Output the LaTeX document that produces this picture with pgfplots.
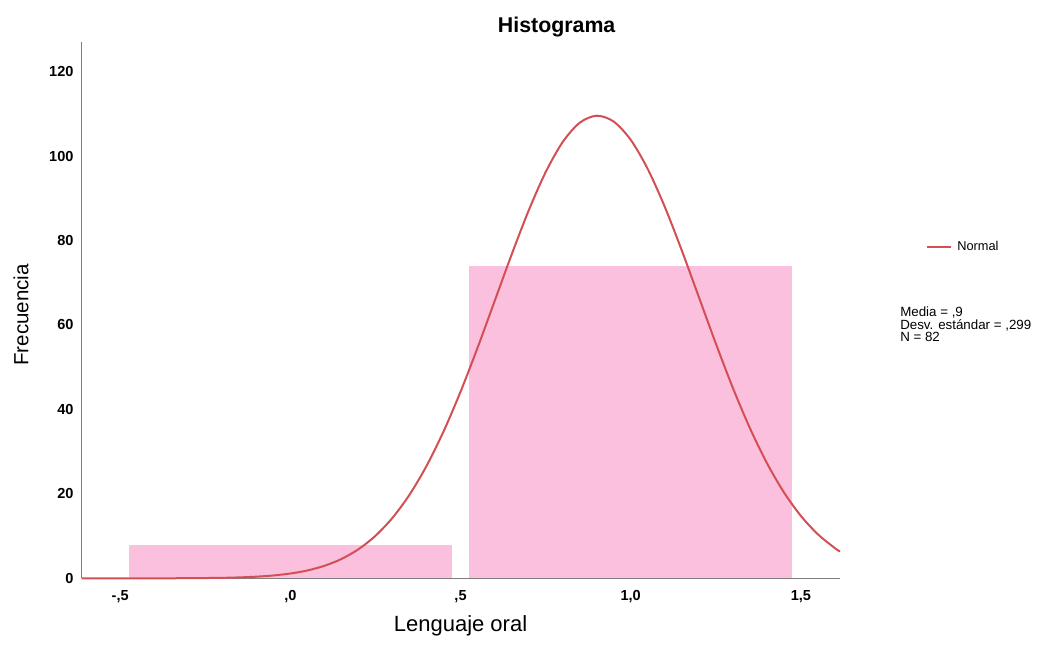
\documentclass[border=0pt]{standalone}
\usepackage{pgfplots}
\pgfplotsset{compat=1.18}
\usepackage{fontspec}
\setmainfont{Liberation Sans}
\definecolor{barpink}{RGB}{250,192,222}
\definecolor{curvered}{RGB}{210,80,84}
\definecolor{axgray}{RGB}{125,125,125}
\begin{document}
\begin{tikzpicture}
\useasboundingbox (0,0) rectangle (785.25bp,483.75bp);
\begin{axis}[
  at={(61.3bp,50bp)}, anchor=south west,
  scale only axis, width=568.7bp, height=402.5bp,
  xmin=-0.613, xmax=1.615, ymin=0, ymax=127.1,
  axis x line=bottom, axis y line=left,
  axis line style={-, draw=axgray, line width=0.9bp},
  xtick={-0.5,0,0.5,1,1.5},
  xticklabels={{-,5},{,0},{,5},{1,0},{1,5}},
  ytick={0,20,...,120},
  major tick length=0pt,
  tick style={draw=none},
  /pgf/number format/assume math mode=true,
  ticklabel style={font=\fontsize{10.9bp}{13bp}\selectfont\bfseries, inner sep=0pt},
  xticklabel style={anchor=north, yshift=-9bp},
  yticklabel style={anchor=east, xshift=-6bp},
  legend style={at={(1.1134,0.6174)}, anchor=west, draw=none, fill=none, inner sep=0pt,
    font=\fontsize{9.6bp}{11bp}\selectfont, nodes={inner sep=0pt},
    /tikz/every odd column/.append style={column sep=3.75bp}},
  legend image code/.code={\draw[#1] (0bp,0bp) -- (18bp,0bp);},
  clip=false,
]
\addplot[fill=barpink, draw=none, forget plot] coordinates {(-0.475,0) (-0.475,8) (0.475,8) (0.475,0)};
\addplot[fill=barpink, draw=none, forget plot] coordinates {(0.525,0) (0.525,74) (1.475,74) (1.475,0)};
\addplot[curvered, line width=1.5bp, smooth] coordinates {
(-0.613,0) (-0.5,0.002) (-0.4,0.008) (-0.3,0.033) (-0.2,0.120) (-0.15,0.220)
(-0.1,0.391) (-0.05,0.677) (0,1.139) (0.05,1.863) (0.1,2.963) (0.15,4.581)
(0.2,6.888) (0.25,10.07) (0.3,14.32) (0.35,19.79) (0.4,26.60) (0.45,34.77)
(0.5,44.19) (0.55,54.60) (0.6,65.61) (0.65,76.65) (0.7,87.07) (0.75,96.18)
(0.8,103.31) (0.85,107.89) (0.9,109.56) (0.95,108.18) (1.0,103.86) (1.05,96.96)
(1.1,88.01) (1.15,77.68) (1.2,66.67) (1.25,55.64) (1.3,45.14) (1.35,35.62)
(1.4,27.33) (1.45,20.39) (1.5,14.79) (1.55,10.43) (1.6,7.15) (1.615,6.35)};
\addlegendentry{Normal}
\node[anchor=base west, inner sep=0pt, font=\fontsize{10bp}{12bp}\selectfont]
  at (axis description cs:1.0791,0.4875) {Media = ,9};
\node[anchor=base west, inner sep=0pt, font=\fontsize{10bp}{12bp}\selectfont]
  at (axis description cs:1.0791,0.4642) {Desv. estándar = ,299};
\node[anchor=base west, inner sep=0pt, font=\fontsize{10bp}{12bp}\selectfont]
  at (axis description cs:1.0791,0.4409) {N = 82};
\end{axis}
\node[anchor=base, font=\fontsize{16bp}{19bp}\selectfont\bfseries] at (417.5bp,459.5bp) {Histograma};
\node[anchor=base, font=\fontsize{16.5bp}{19bp}\selectfont] at (345.4bp,10.5bp) {Lenguaje oral};
\node[anchor=base, rotate=90, font=\fontsize{15.4bp}{18bp}\selectfont] at (21.2bp,247.5bp) {Frecuencia};
\end{tikzpicture}
\end{document}
